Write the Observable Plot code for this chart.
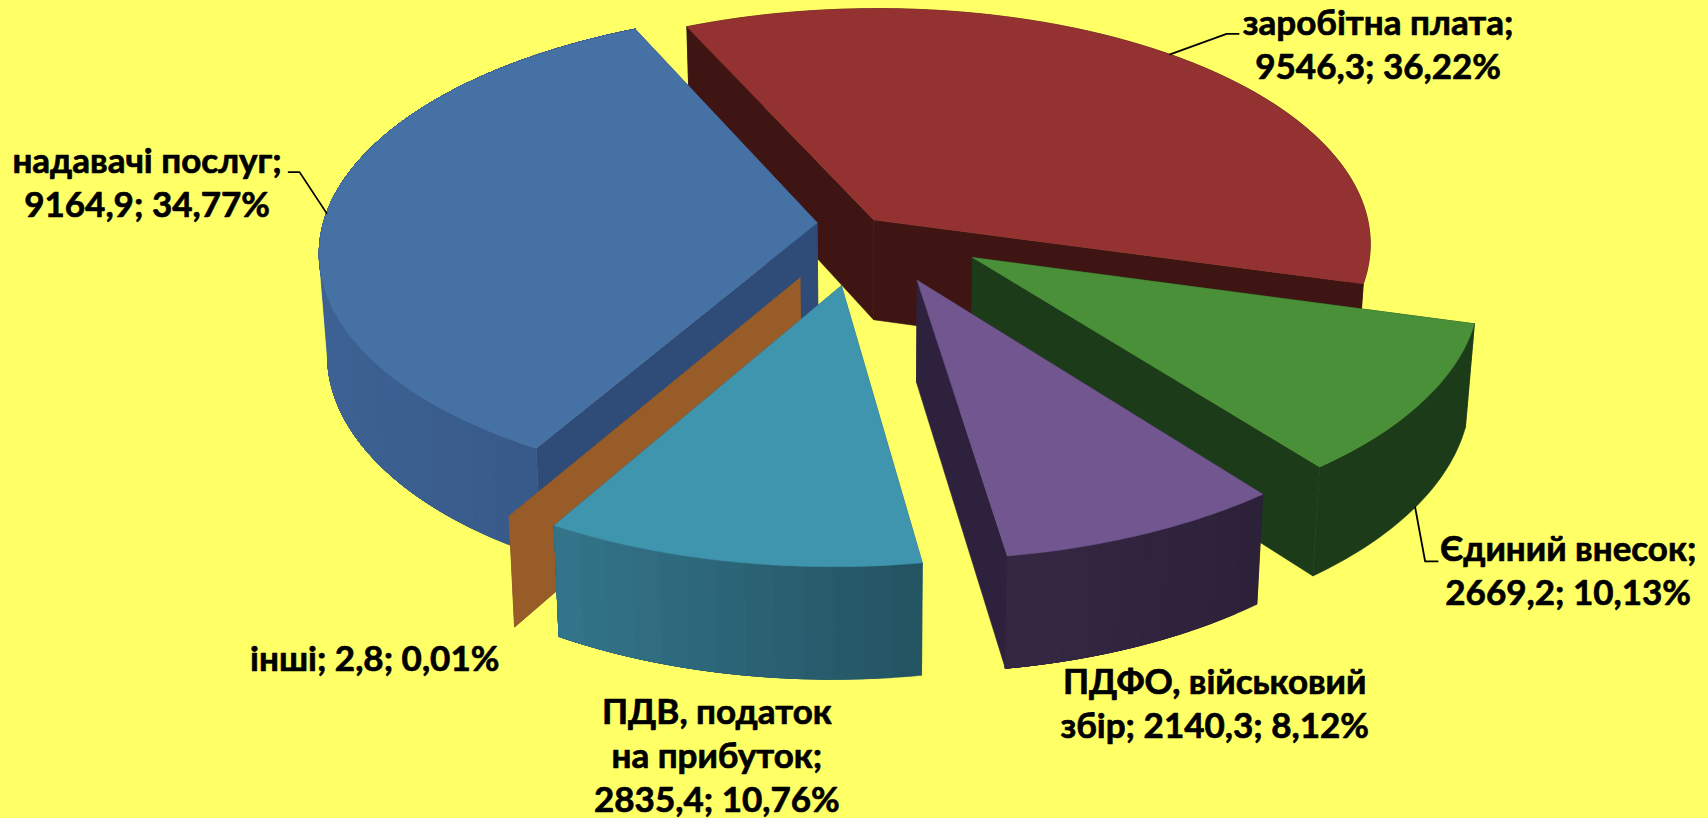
<!DOCTYPE html>
<html lang="uk">
<head>
<meta charset="utf-8">
<style>
html,body{margin:0;padding:0;background:#FFFF66;}
svg{display:block;}
</style>
<script src="https://cdn.jsdelivr.net/npm/d3@7"></script>
<script src="https://cdn.jsdelivr.net/npm/@observablehq/plot@0.6"></script>
</head>
<body>
<div id="chart"></div>
<script>
// ---- data, clockwise from the first slice
const categories = ["заробітна плата", "Єдиний внесок", "ПДФО, військовий збір", "ПДВ, податок на прибуток", "інші", "надавачі послуг"];
const amounts = [9546.3, 2669.2, 2140.3, 2835.4, 2.8, 9164.9];
const labelTexts = [
  "заробітна плата;\n9546,3; 36,22%",
  "Єдиний внесок;\n2669,2; 10,13%",
  "ПДФО, військовий\nзбір; 2140,3; 8,12%",
  "ПДВ, податок\nна прибуток;\n2835,4; 10,76%",
  "інші; 2,8; 0,01%",
  "надавачі послуг;\n9164,9; 34,77%"
];
// ---- styles
const topColors = ["#943231", "#4A9039", "#72568F", "#4095AE", "#975C28", "#4671A5"];
const sideColors = ["#3E1513", "#1C3B18", "#2E213D", "#2A5F70", "#975C28", "#2F4C78"];
const wallFrom = ["#3E1513", "#1C3B18", "#352843", "#34768C", "#975C28", "#3D6293"];
const wallTo = ["#3E1513", "#1C3B18", "#2D2039", "#235361", "#975C28", "#355685"];
const explosion = [0.022, 0.255, 0.255, 0.26, 0.26, 0.1];
// ---- 3-D pie view: rotation, perspective, scale
const rotation = -24.5, persp = 0.11, cx = 866, cy = 223.3, sx = 494.5, sy = 235.3, shear = 2.2;
const depth = 100, depthPower = 0.8, vx = 870, shrink = 0.015, bandDegrees = 3;
const rad = d => d * Math.PI / 180;
function project(X, Y, z) {
  const w = 1 + persp * Y;
  const x0 = cx + sx * X / w, y0 = cy - sy * Y / w - shear * X / w;
  return z ? [vx + (x0 - vx) * (1 - shrink), y0 + depth / Math.pow(w, depthPower)] : [x0, y0];
}
const total = d3.sum(amounts);
let acc = rotation;
const slices = amounts.map((v, i) => {
  const a0 = acc, a1 = acc + v / total * 360; acc = a1;
  const m = (a0 + a1) / 2, e = explosion[i];
  return {i, name: categories[i], a0, a1, m, ax: e * Math.sin(rad(m)), ay: e * Math.cos(rad(m))};
});
const rim = (s, t, z) => project(s.ax + Math.sin(rad(t)), s.ay + Math.cos(rad(t)), z);
const apex = (s, z) => project(s.ax, s.ay, z);

const polys = [];
let polyId = 0;
const addPoly = (pts, color) => {
  polyId++;
  [...pts, pts[0]].forEach(p => polys.push({id: polyId, x: p[0], y: p[1], color}));
};
const angles = s => { const n = Math.max(1, Math.ceil(s.a1 - s.a0)); return d3.range(n + 1).map(k => s.a0 + (s.a1 - s.a0) * k / n); };
const ribbon = ts => [...ts.map(t => t[0]), ...ts.map(t => t[1]).reverse()];
// painter's order: back to front
[0, 5, 1, 2, 4, 3].forEach(i => {
  const s = slices[i], ts = angles(s);
  for (const t of [s.a0, s.a1])
    addPoly([apex(s, 0), rim(s, t, 0), rim(s, t, 1), apex(s, 1)], sideColors[i]);
  const mix = d3.interpolateRgb(wallFrom[i], wallTo[i]);
  const xs = ts.map(t => rim(s, t, 0)[0]);
  const [x0, x1] = d3.extent(xs);
  const wallPts = ts.map(t => [rim(s, t, 0), rim(s, t, 1)]);
  // bands: each one paints from its own start to the end of the slice, so no seams
  const flat = wallFrom[i] === wallTo[i];
  const step = flat ? ts.length : bandDegrees;
  for (let k = 0; k < ts.length - 1; k += step) {
    const f = x1 > x0 ? (xs[Math.min(k + (step >> 1), xs.length - 1)] - x0) / (x1 - x0) : 0;
    addPoly(ribbon(wallPts.slice(k)), d3.color(mix(f)).formatHex());
  }
  addPoly([apex(s, 0), ...ts.map(t => rim(s, t, 0))], topColors[i]);
});

// ---- labels and leaders: offsets from the rim point at each slice's mid angle
const labelOffsets = [[208, -50.5], [153, 22], [74, 17], [-15, 19], [-140, 13], [-179.5, -71]];
const anchorOnBottom = [false, true, true, true, true, false];
const leaderElbows = [[56.5, -20.5], [10, 54], null, null, null, [-27, -41]];
const leaderEnds = [[68.5, -20.5], [22.5, 54], null, null, null, [-38, -41]];
const anchors = slices.map((s, i) => rim(s, s.m, anchorOnBottom[i]));
const labelRows = anchors.map((p, i) => ({x: p[0] + labelOffsets[i][0], y: p[1] + labelOffsets[i][1], text: labelTexts[i]}));
const leaders = anchors.flatMap((p, i) => leaderElbows[i]
  ? [p, [p[0] + leaderElbows[i][0], p[1] + leaderElbows[i][1]], [p[0] + leaderEnds[i][0], p[1] + leaderEnds[i][1]]].map(q => ({k: i, x: q[0], y: q[1]}))
  : []);

const chart = Plot.plot({
  width: 1708, height: 818, margin: 0,
  style: {background: "#FFFF66", fontFamily: "Lato, 'Noto Sans', sans-serif"},
  x: {domain: [0, 1708], range: [0, 1708], axis: null},
  y: {domain: [0, 818], range: [0, 818], axis: null},
  color: {type: "identity"},
  marks: [
    Plot.line(polys, {x: "x", y: "y", z: "id", fill: "color", stroke: "color", strokeWidth: 0.6, curve: "linear"}),
    Plot.line(leaders, {x: "x", y: "y", z: "k", stroke: "#000", strokeWidth: 1.8}),
    Plot.text(labelRows, {x: "x", y: "y", text: "text", fontSize: 35, fontWeight: 700, fill: "#000", stroke: "#000", strokeWidth: 0.7, lineHeight: 1.257, lineAnchor: "top", textAnchor: "middle"})
  ]
});
document.getElementById("chart").append(chart);
</script>
</body>
</html>
